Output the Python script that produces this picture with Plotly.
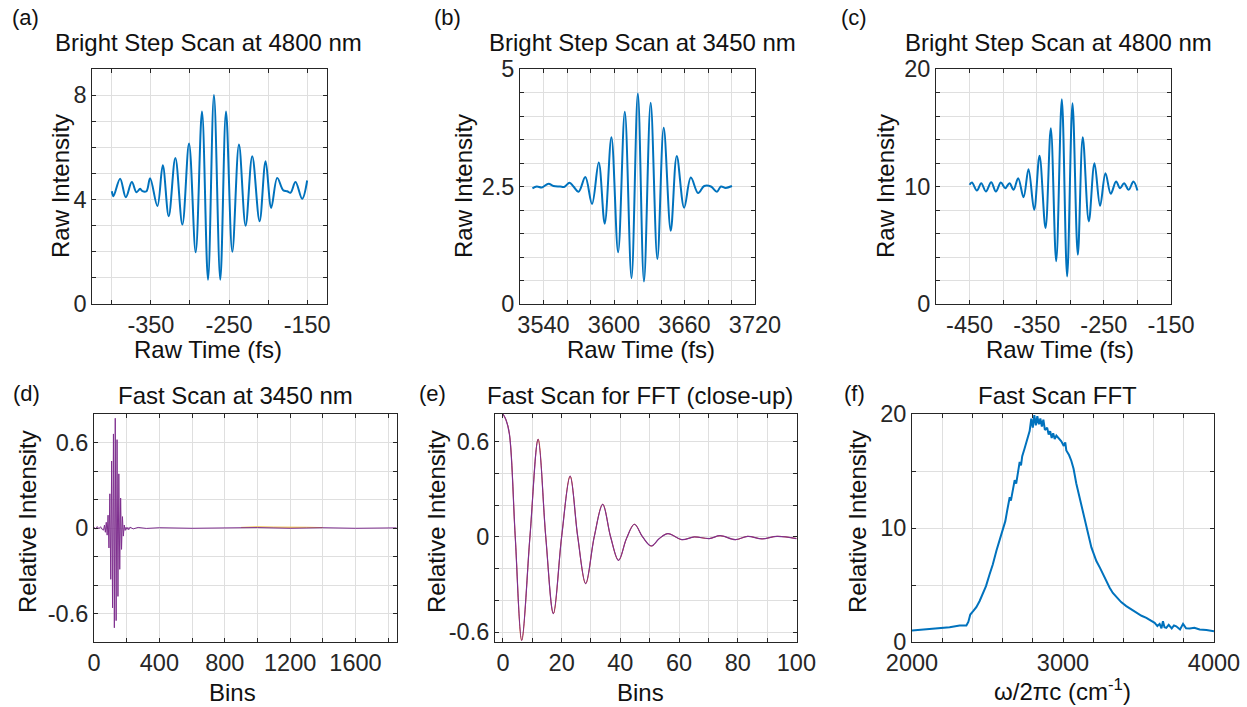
import plotly.graph_objects as go
from plotly.subplots import make_subplots

W, H = 1247, 707
FONT = 'Liberation Sans, Arial, sans-serif'
INK = '#262626'
BLUE = '#0072BD'
ORANGE = '#D95319'
PURPLE = '#7E2F8E'

# (a) bright step scan at 4800 nm
a_time = [-400, -397.9, -389.4, -382.1, -374.4, -368.5, -363.8, -360.8, -355.7, -351.0,
          -341.7, -334.8, -327.2, -318.7, -309.7, -301.2, -292.7, -284.6, -276.9, -269.3,
          -261.2, -253.9, -245.8, -237.3, -228.8, -220.3, -210.9, -203.2, -196.0, -188.3,
          -180.7, -175.6, -171.3, -164.9, -156.4, -150]
a_int = [4.32, 4.13, 4.80, 4.09, 4.67, 4.28, 4.41, 4.32, 4.32, 4.82,
         3.75, 5.31, 3.36, 5.59, 3.04, 6.15, 1.98, 7.37, 0.93, 8.0,
         0.93, 7.37, 2.0, 6.11, 3.0, 5.66, 3.17, 5.47, 3.68, 4.83,
         4.36, 4.32, 4.26, 4.67, 4.03, 4.73]

# (b) bright step scan at 3450 nm
b_time = [3530.6, 3534.3, 3538.6, 3544.3, 3548.5, 3554.2, 3557.5, 3562.2, 3565.5, 3569.9,
          3575.6, 3581.3, 3587.0, 3592.1, 3597.8, 3603.5, 3609.2, 3614.9, 3620.3, 3625.5,
          3631.2, 3636.9, 3642.3, 3648.3, 3653.4, 3659.7, 3665.4, 3671.6, 3676.8, 3682.5,
          3687.6, 3691.0, 3695.0, 3700.4]
b_int = [2.46, 2.50, 2.48, 2.56, 2.51, 2.50, 2.49, 2.58, 2.50, 2.39,
         2.70, 2.13, 3.01, 1.71, 3.55, 1.10, 4.09, 0.55, 4.48, 0.48,
         4.28, 0.96, 3.75, 1.56, 3.15, 2.05, 2.69, 2.36, 2.51, 2.50,
         2.39, 2.50, 2.47, 2.51]

# (c) bright step scan at 4800 nm
c_time = [-450, -446.5, -439.1, -432.6, -425.7, -417.8, -410.8, -403.4, -396.9, -390.5,
          -384.5, -377.6, -369.6, -362.2, -353.8, -345.8, -336.9, -329.0, -321.0, -312.6,
          -304.7, -296.7, -288.8, -281.4, -272.4, -264.0, -255.6, -247.6, -239.7, -231.8,
          -225.8, -219.9, -213.0, -206.0, -200]
c_int = [10.14, 10.34, 9.66, 10.28, 9.58, 10.37, 9.58, 10.34, 9.86, 10.28,
         9.72, 10.71, 9.09, 11.47, 8.02, 12.61, 6.46, 14.96, 3.63, 17.42,
         2.35, 17.08, 4.19, 14.19, 7.03, 11.98, 8.36, 11.13, 9.38, 10.42,
         9.86, 10.28, 9.72, 10.42, 9.66]

# (d) fast scan at 3450 nm
d_bins = [0, 10, 20, 30, 40, 50, 58.5, 64, 69.5, 75, 80.5, 86, 91.5, 97, 102.5, 108,
          113.5, 119, 124.5, 130, 135.5, 141, 146.5, 152, 157.5, 163, 168.5, 174, 179.5,
          185, 190.5, 196, 201.5, 207, 212.5, 220, 240, 270, 320, 400, 600, 800, 1000,
          1200, 1400, 1600, 1852]
d_val = [0.006, -0.008, 0.01, -0.006, 0.009, -0.01, -0.015, 0.02, -0.03, 0.04, -0.05, 0.09,
         -0.14, 0.24, -0.36, 0.47, -0.56, 0.66, -0.70, 0.77, -0.65, 0.62, -0.48, 0.38,
         -0.29, 0.21, -0.15, 0.08, -0.057, 0.021, -0.017, 0.005, -0.01, 0.004, -0.012,
         0.006, -0.006, 0.004, -0.003, 0.002, -0.002, 0.002, 0.003, -0.002, 0.002, -0.002, 0.001]
# second run, only visible where it drifts off the first one
d2_bins = [900, 1000, 1100, 1200, 1300, 1400]
d2_val = [0.004, 0.008, 0.006, 0.007, 0.005, 0.003]

# (e) fast scan for FFT, close-up
e_bins = [0, 1, 2.2, 4.2, 6.4, 9.2, 12.0, 14.6, 17.2, 20.0, 22.9, 25.5, 28.2, 31.1, 34.0,
          36.7, 39.4, 42.1, 44.8, 47.6, 50.5, 53.3, 56.2, 61, 65.2, 70.3, 74, 79.2, 83.4,
          88.3, 93.4, 100]
e_val = [0.775, 0.74, 0.65, 0.0, -0.652, 0.0, 0.616, 0.0, -0.483, 0.0, 0.383, 0.0, -0.294,
         0.0, 0.206, 0.0, -0.147, -0.01, 0.08, 0.0, -0.057, -0.01, 0.021, -0.017, 0.0,
         -0.01, 0.008, -0.017, 0.004, -0.012, 0.004, -0.01]

# (f) FFT of fast scan
f_wn = [2000, 2139, 2249, 2316, 2360, 2373, 2386, 2405, 2426, 2448, 2470, 2490, 2514, 2535,
        2559, 2580, 2603, 2618, 2630, 2647, 2655, 2665, 2680, 2690, 2700, 2713, 2722, 2730,
        2746, 2760, 2770, 2779, 2790, 2800, 2810, 2820, 2830, 2840, 2850, 2860, 2870, 2880,
        2895, 2905, 2915, 2925, 2935, 2945, 2956, 2970, 2989, 3005, 3015, 3022, 3040, 3055,
        3070, 3088, 3105, 3121, 3140, 3155, 3170, 3188, 3205, 3221, 3245, 3265, 3285, 3309,
        3330, 3353, 3385, 3419, 3450, 3486, 3520, 3552, 3580, 3607, 3625, 3640, 3652, 3662,
        3672, 3684, 3700, 3720, 3735, 3750, 3775, 3795, 3815, 3839, 3870, 3905, 3950, 4000]
f_amp = [1.0, 1.15, 1.29, 1.44, 1.44, 1.76, 2.41, 2.7, 3.06, 3.6, 4.32, 4.9, 5.94, 6.8,
         8.0, 8.9, 10.06, 10.6, 11.5, 12.7, 12.4, 13.2, 14.2, 13.9, 14.9, 15.8, 15.5, 16.3,
         17.0, 17.6, 17.9, 18.5, 19.6, 18.8, 19.9, 19.0, 19.8, 19.1, 19.6, 18.9, 19.5, 18.6,
         18.8, 18.2, 18.5, 17.9, 18.3, 17.8, 18.1, 17.9, 17.6, 17.2, 17.5, 16.8, 16.4, 15.9,
         15.2, 13.9, 13.0, 12.1, 11.0, 10.35, 9.3, 8.3, 7.6, 7.1, 6.5, 5.94, 5.3, 4.76,
         4.3, 3.94, 3.5, 3.15, 2.9, 2.56, 2.3, 2.12, 1.9, 1.68, 1.4, 1.59, 1.2, 1.82,
         1.3, 1.24, 1.5, 1.2, 1.45, 1.38, 1.1, 1.59, 1.2, 1.18, 1.25, 1.09, 1.05, 0.94]

# pixel box of every panel: left, right, top, bottom
boxes = {
    (1, 1): (92.3, 326.7, 69, 304),
    (1, 2): (520, 755, 69, 304),
    (1, 3): (936, 1171, 69, 304),
    (2, 1): (94, 396.7, 414, 642),
    (2, 2): (495, 797, 414, 642),
    (2, 3): (912, 1214, 414, 642),
}

fig = make_subplots(rows=2, cols=3)

fig.add_trace(go.Scatter(x=a_time, y=a_int, mode='lines', line=dict(color=BLUE, width=2, shape='spline')), row=1, col=1)
fig.add_trace(go.Scatter(x=b_time, y=b_int, mode='lines', line=dict(color=BLUE, width=2, shape='spline')), row=1, col=2)
fig.add_trace(go.Scatter(x=c_time, y=c_int, mode='lines', line=dict(color=BLUE, width=2, shape='spline')), row=1, col=3)
fig.add_trace(go.Scatter(x=d2_bins, y=d2_val, mode='lines', line=dict(color='#EDB120', width=1)), row=2, col=1)
fig.add_trace(go.Scatter(x=d_bins, y=d_val, mode='lines', line=dict(color=PURPLE, width=1)), row=2, col=1)
fig.add_trace(go.Scatter(x=e_bins, y=e_val, mode='lines', line=dict(color=ORANGE, width=1, shape='spline')), row=2, col=2)
fig.add_trace(go.Scatter(x=e_bins, y=e_val, mode='lines', line=dict(color=PURPLE, width=1.2, shape='spline')), row=2, col=2)
fig.add_trace(go.Scatter(x=f_wn, y=f_amp, mode='lines', line=dict(color=BLUE, width=2)), row=2, col=3)


def frange(a, b, s):
    out, v = [], a
    while v <= b + 1e-9:
        out.append(round(v, 6))
        v += s
    return out


def ticks(grid, labels, texts=None):
    # labelled ticks as major, the rest as minor ticks with grid
    return dict(tickmode='array', tickvals=labels,
                ticktext=texts if texts else [str(v) for v in labels],
                minor=dict(tickmode='array', tickvals=[g for g in grid if g not in labels],
                           ticks='inside', ticklen=4, tickcolor=INK,
                           showgrid=True, gridcolor='#DFDFDF', gridwidth=1))


xt = {
    (1, 1): ([-425, -125], ticks(frange(-400, -150, 50), [-350, -250, -150])),
    (1, 2): ([3520, 3720], ticks(frange(3540, 3720, 20), [3540, 3600, 3660, 3720])),
    (1, 3): ([-500, -150], ticks(frange(-450, -150, 50), [-450, -350, -250, -150])),
    (2, 1): ([0, 1852], ticks(frange(0, 1800, 200), [0, 400, 800, 1200, 1600])),
    (2, 2): ([-2.7, 100.2], ticks(frange(0, 100, 10), [0, 20, 40, 60, 80, 100])),
    (2, 3): ([2000, 4000], ticks(frange(2000, 4000, 200), [2000, 3000, 4000])),
}
yt = {
    (1, 1): ([0, 9], ticks(frange(0, 9, 1), [0, 4, 8])),
    (1, 2): ([0, 5], ticks(frange(0, 5, 0.5), [0, 2.5, 5], ['0', '2.5', '5'])),
    (1, 3): ([0, 20], ticks(frange(0, 20, 2), [0, 10, 20])),
    (2, 1): ([-0.8, 0.8], ticks(frange(-0.8, 0.8, 0.2), [-0.6, 0, 0.6], ['-0.6', '0', '0.6'])),
    (2, 2): ([-0.662, 0.775], ticks(frange(-0.6, 0.6, 0.2), [-0.6, 0, 0.6], ['-0.6', '0', '0.6'])),
    (2, 3): ([0, 20], ticks(frange(0, 20, 5), [0, 10, 20])),
}

common = dict(showline=True, linecolor=INK, linewidth=1, mirror='allticks',
              ticks='inside', ticklen=4, tickcolor=INK, showgrid=True,
              gridcolor='#DFDFDF', gridwidth=1, zeroline=False, automargin=False,
              tickfont=dict(family=FONT, size=23.5, color=INK))

for (r, c), (l, rt, t, b) in boxes.items():
    xr, xtk = xt[(r, c)]
    yr, ytk = yt[(r, c)]
    fig.update_xaxes(domain=[l / W, rt / W], range=xr, **xtk, **common, row=r, col=c)
    fig.update_yaxes(domain=[1 - b / H, 1 - t / H], range=yr, **ytk, **common, row=r, col=c)


def note(text, x, y, size=24, angle=0):
    fig.add_annotation(text=text, x=x / W, y=1 - y / H, xref='paper', yref='paper',
                       showarrow=False, xanchor='center', yanchor='middle', textangle=angle,
                       font=dict(family=FONT, size=size, color='#111111'))


for lab, x, y in [('(a)', 25, 17), ('(b)', 447, 17), ('(c)', 854, 17),
                  ('(d)', 26, 393), ('(e)', 432, 393), ('(f)', 854, 393)]:
    note(lab, x, y, size=22)

for txt, x, y in [('Bright Step Scan at 4800 nm', 208, 43),
                  ('Bright Step Scan at 3450 nm', 642, 43),
                  ('Bright Step Scan at 4800 nm', 1058, 43),
                  ('Fast Scan at 3450 nm', 235, 395),
                  ('Fast Scan for FFT (close-up)', 640, 395),
                  ('Fast Scan FFT', 1057, 395)]:
    note(txt, x, y)

for txt, x, y in [('Raw Time (fs)', 208, 349), ('Raw Time (fs)', 641, 349),
                  ('Raw Time (fs)', 1060, 349), ('Bins', 232, 692), ('Bins', 640, 692),
                  ('ω/2πc (cm<sup>-1</sup>)', 1062, 690)]:
    note(txt, x, y)

for txt, x, y in [('Raw Intensity', 60, 186), ('Raw Intensity', 463, 186),
                  ('Raw Intensity', 885, 186), ('Relative Intensity', 27, 522),
                  ('Relative Intensity', 436, 522), ('Relative Intensity', 857, 522)]:
    note(txt, x, y, angle=-90)

fig.update_layout(width=W, height=H, margin=dict(l=0, r=0, t=0, b=0),
                  paper_bgcolor='white', plot_bgcolor='white', showlegend=False,
                  font=dict(family=FONT, color=INK))

# the page body has a default 8px margin; drop it so the figure sits at the corner
fig.write_html("out.html", config={'displayModeBar': False},
               post_script="document.body.style.margin='0px';")
